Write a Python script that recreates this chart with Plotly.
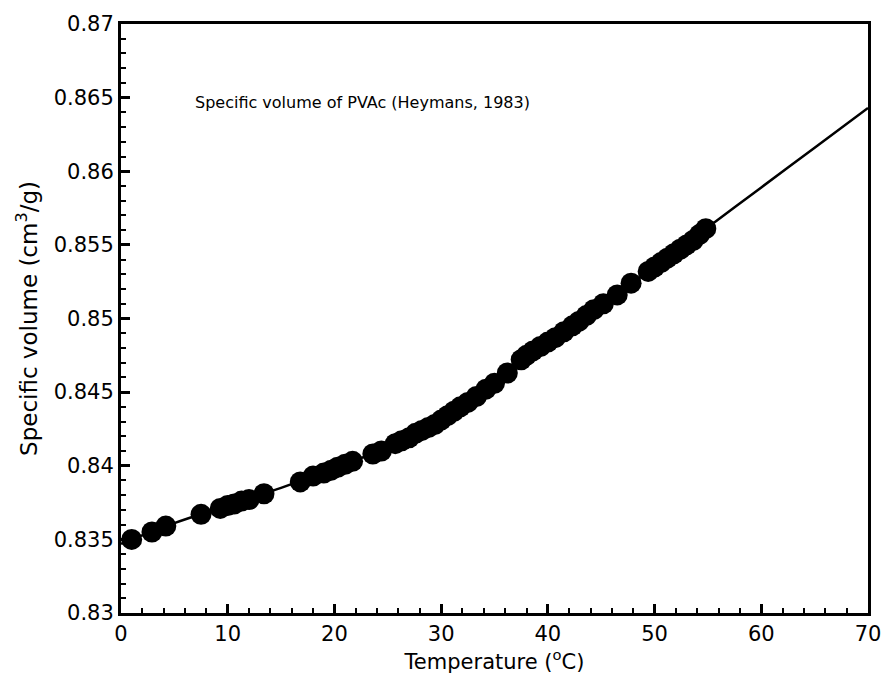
import plotly.graph_objects as go

# Fitted curve
line_T = [0, 5, 10, 15, 20, 25, 30, 35, 40, 45, 50, 55, 60, 65, 70]
line_v = [0.8347, 0.8361, 0.8373, 0.8385, 0.8398, 0.8413, 0.8431, 0.8456,
          0.8484, 0.8509, 0.8535, 0.8562, 0.8589, 0.8616, 0.8643]

# Measured points (Heymans, 1983)
pts_T = [1.0, 2.9, 4.2, 7.5, 9.3, 10.0, 10.6, 11.3, 12.0, 13.4, 16.8, 18.0, 19.0,
         19.7, 20.3, 21.0, 21.7, 23.6, 24.4, 25.7, 26.3, 27.0, 27.6, 28.2, 28.8,
         29.4, 30.0, 30.6, 31.2, 31.8, 32.5, 33.3, 34.2, 35.0, 36.2, 37.5, 38.0,
         38.6, 39.3, 40.0, 40.7, 41.5, 42.3, 42.9, 43.6, 44.3, 45.2, 46.5, 47.8,
         49.4, 50.0, 50.6, 51.2, 51.8, 52.4, 53.0, 53.6, 54.2, 54.8]
pts_v = [0.8350, 0.8355, 0.8359, 0.8367, 0.8371, 0.8373, 0.8374, 0.8376, 0.8377,
         0.8381, 0.8389, 0.8393, 0.8395, 0.8397, 0.8399, 0.8401, 0.8403, 0.8408,
         0.8410, 0.8415, 0.8417, 0.8419, 0.8422, 0.8424, 0.8426, 0.8428, 0.8431,
         0.8434, 0.8437, 0.8440, 0.8443, 0.8447, 0.8452, 0.8456, 0.8463, 0.8472,
         0.8475, 0.8478, 0.8481, 0.8484, 0.8487, 0.8491, 0.8495, 0.8498, 0.8502,
         0.8506, 0.8510, 0.8516, 0.8524, 0.8532, 0.8535, 0.8538, 0.8541, 0.8544,
         0.8547, 0.8550, 0.8553, 0.8557, 0.8561]

FONT = "DejaVu Sans, Liberation Sans, Arial, sans-serif"

fig = go.Figure()
fig.add_trace(go.Scatter(x=line_T, y=line_v, mode="lines",
                         line=dict(color="black", width=2.5, shape="spline"),
                         showlegend=False, hoverinfo="skip"))
fig.add_trace(go.Scatter(x=pts_T, y=pts_v, mode="markers",
                         marker=dict(color="black", size=21, line=dict(width=0)),
                         showlegend=False))

axis_common = dict(
    showline=True, linecolor="black", linewidth=3, mirror=True,
    ticks="inside", ticklen=9, tickwidth=3, tickcolor="black",
    showgrid=False, zeroline=False,
    tickfont=dict(family=FONT, size=21, color="black"),
)

fig.update_xaxes(range=[0, 70], dtick=10, tick0=0,
                 minor=dict(dtick=2, ticks="inside", ticklen=5, tickwidth=1.5,
                            tickcolor="black", showgrid=False),
                 title=dict(text="Temperature (<sup>o</sup>C)",
                            font=dict(family=FONT, size=21, color="black"),
                            standoff=3),
                 **axis_common)
fig.update_yaxes(range=[0.83, 0.87], dtick=0.005, tick0=0.83,
                 minor=dict(dtick=0.001, ticks="inside", ticklen=5, tickwidth=1.5,
                            tickcolor="black", showgrid=False),
                 title=dict(text="Specific volume (cm<sup>3</sup>/g)",
                            font=dict(family=FONT, size=23, color="black"),
                            standoff=10),
                 **axis_common)

fig.add_annotation(x=6.7, y=0.8647, xref="x", yref="y", xanchor="left",
                   yanchor="middle", showarrow=False,
                   text="Specific volume of PVAc (Heymans, 1983)",
                   font=dict(family=FONT, size=16, color="black"))

fig.update_layout(width=893, height=676,
                  margin=dict(l=121, r=16, t=22, b=62),
                  plot_bgcolor="white", paper_bgcolor="white")

fig.write_html("out.html")
